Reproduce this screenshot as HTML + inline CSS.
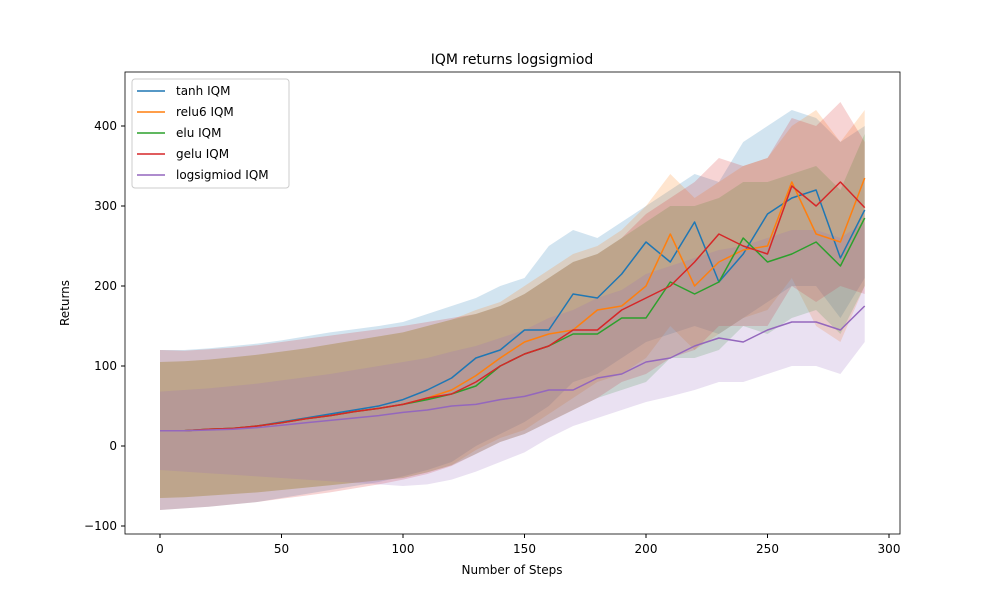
<!DOCTYPE html>
<html><head><meta charset="utf-8"><style>
body{margin:0;background:#fff;font-family:"Liberation Sans","DejaVu Sans",sans-serif}
</style></head><body>
<svg id="chart" width="1000" height="600" xmlns="http://www.w3.org/2000/svg" font-family="'DejaVu Sans','Liberation Sans',sans-serif"></svg>
<script>
const steps=[0,10,20,30,40,50,60,70,80,90,100,110,120,130,140,150,160,170,180,190,200,210,220,230,240,250,260,270,280,290];
const seriesNames=["tanh IQM","relu6 IQM","elu IQM","gelu IQM","logsigmiod IQM"];
const colors=["#1f77b4","#ff7f0e","#2ca02c","#d62728","#9467bd"];
const tanhVals=[19,19,21,22,25,30,35,40,45,50,58,70,85,110,120,145,145,190,185,215,255,230,280,205,240,290,310,320,235,295];
const relu6Vals=[19,19,21,22,25,29,34,38,43,47,52,60,70,88,110,130,140,145,170,175,200,265,200,230,245,250,330,265,255,335];
const eluVals=[19,19,21,22,25,29,34,38,43,47,52,58,65,75,100,115,125,140,140,160,160,205,190,205,260,230,240,255,225,285];
const geluVals=[19,19,21,22,25,29,34,38,43,47,52,60,65,80,100,115,125,145,145,170,185,200,230,265,250,240,325,300,330,298];
const logsigVals=[19,19,20,21,23,26,29,32,35,38,42,45,50,52,58,62,70,70,85,90,105,110,125,135,130,145,155,155,145,175];
const tanhUp=[120,120,122,125,128,132,137,142,146,150,155,165,175,185,200,210,250,270,260,280,300,320,340,330,380,400,420,410,380,400];
const tanhLo=[-80,-78,-76,-73,-70,-65,-60,-55,-50,-45,-38,-30,-20,0,15,30,50,80,90,110,130,140,150,140,160,180,200,200,160,210];
const relu6Up=[105,106,108,111,114,118,122,127,132,137,142,150,158,170,180,200,220,240,250,270,300,340,310,330,350,360,400,420,380,420];
const relu6Lo=[-65,-64,-62,-60,-58,-55,-52,-49,-46,-43,-40,-33,-24,-5,10,20,40,60,80,90,110,150,120,140,160,170,210,150,130,200];
const eluUp=[105,106,108,111,114,118,122,127,132,137,142,150,158,165,175,190,210,230,240,260,280,300,300,310,330,330,340,350,320,390];
const eluLo=[-65,-64,-62,-60,-58,-55,-52,-49,-46,-43,-40,-33,-24,-10,5,15,30,45,60,70,80,110,110,120,150,140,160,170,140,200];
const geluUp=[120,119,121,123,126,130,134,138,142,146,150,155,160,165,175,190,210,230,240,260,290,310,330,360,350,360,410,400,430,380];
const geluLo=[-80,-78,-76,-73,-70,-66,-62,-58,-53,-48,-42,-35,-25,-10,5,15,30,45,60,80,90,110,120,150,150,150,200,180,200,190];
const logsigUp=[68,70,72,75,78,82,86,90,95,100,105,110,118,125,135,145,160,170,185,195,215,225,235,245,250,260,270,270,260,280];
const logsigLo=[-30,-32,-34,-36,-38,-40,-42,-44,-46,-48,-50,-48,-42,-32,-20,-8,10,25,35,45,55,62,70,80,80,90,100,100,90,130];
const xTicks=[0,50,100,150,200,250,300];
const yTicks=[-100,0,100,200,300,400];
const vals=[tanhVals,relu6Vals,eluVals,geluVals,logsigVals];
const ups=[tanhUp,relu6Up,eluUp,geluUp,logsigUp];
const los=[tanhLo,relu6Lo,eluLo,geluLo,logsigLo];
const X=v=>160+v*2.43, Y=v=>446-v*0.8;
const svg=document.getElementById('chart');const NS="http://www.w3.org/2000/svg";
function mk(t,a,p){const e=document.createElementNS(NS,t);for(const k in a)e.setAttribute(k,a[k]);(p||svg).appendChild(e);return e;}
let e=mk('text',{x:512,y:64,'text-anchor':'middle','font-size':14});e.textContent="IQM returns logsigmiod";


for(let s=0;s<5;s++){
 let d=steps.map((x,i)=>(i?'L':'M')+X(x)+','+Y(ups[s][i])).join('')+steps.slice().reverse().map((x,j)=>{const i=steps.length-1-j;return 'L'+X(x)+','+Y(los[s][i]);}).join('')+'Z';
 e=mk('path',{d:d,fill:colors[s],'fill-opacity':0.2,stroke:'none'});
 
 
}
for(let s=0;s<5;s++){
 let d=steps.map((x,i)=>(i?'L':'M')+X(x)+','+Y(vals[s][i])).join('');
 e=mk('path',{d:d,fill:'none',stroke:colors[s],'stroke-width':1.5,'stroke-linejoin':'round'});
 
 
}
e=mk('rect',{x:125,y:72,width:775,height:462,fill:'none',stroke:'#000','stroke-width':0.8});


xTicks.forEach(t=>{mk('line',{x1:X(t),x2:X(t),y1:534,y2:538,stroke:'#000'});
 e=mk('text',{x:X(t),y:553,'text-anchor':'middle','font-size':12});e.textContent=t;
 
 });
yTicks.forEach(t=>{mk('line',{x1:121,x2:125,y1:Y(t),y2:Y(t),stroke:'#000'});
 e=mk('text',{x:117,y:Y(t)+4,'text-anchor':'end','font-size':12});e.textContent=t.toString().replace('-','−');
 
 });
e=mk('text',{x:512,y:574,'text-anchor':'middle','font-size':12});e.textContent="Number of Steps";


e=mk('text',{x:69,y:303,'text-anchor':'middle','font-size':12,transform:'rotate(-90 69 303)'});e.textContent="Returns";


const lg=mk('g',{});


mk('rect',{x:132,y:79,width:157,height:109,rx:3,fill:'#fff','fill-opacity':0.8,stroke:'#ccc'},lg);
seriesNames.forEach((n,i)=>{const y=91+i*21;
 mk('line',{x1:137,x2:165,y1:y,y2:y,stroke:colors[i],'stroke-width':1.5},lg);
 const t=mk('text',{x:176,y:y+4,'font-size':12},lg);t.textContent=n;
 
 });
</script>
</body></html>
